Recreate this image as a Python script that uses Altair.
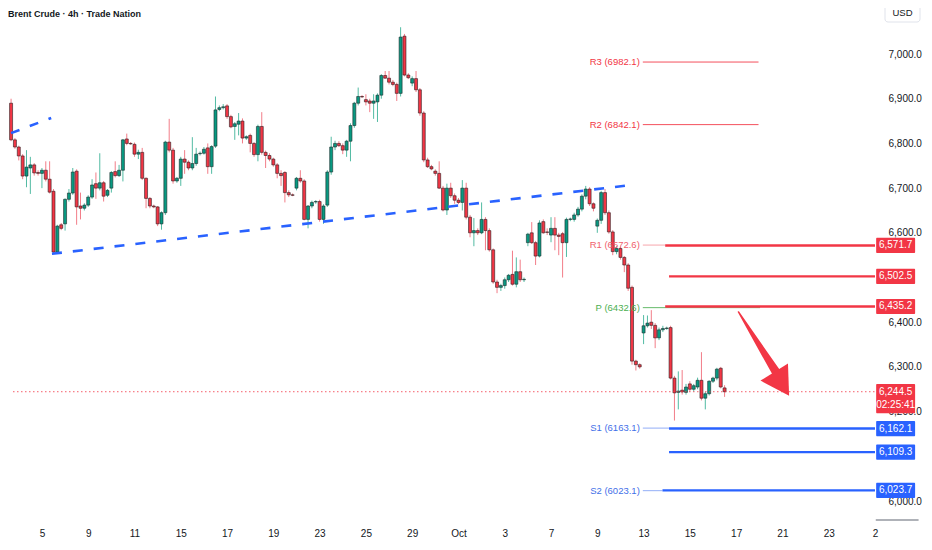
import json
import altair as alt
import pandas as pd

# ---- 4h candles (Brent Crude) ----
opens = [6890, 6808, 6792, 6772, 6727, 6745, 6752, 6735, 6733, 6740, 6720, 6693, 6557, 6618, 6620, 6675, 6689, 6738, 6660, 6655,
         6662, 6680, 6710, 6700, 6712, 6684, 6700, 6737, 6728, 6740, 6810, 6800, 6798, 6776, 6780, 6722, 6677, 6660, 6658, 6620,
         6645, 6803, 6785, 6716, 6722, 6765, 6758, 6745, 6755, 6777, 6778, 6790, 6748, 6794, 6876, 6880, 6884, 6860, 6838, 6843,
         6850, 6812, 6818, 6800, 6775, 6838, 6780, 6773, 6765, 6752, 6733, 6735, 6690, 6685, 6700, 6722, 6716, 6630, 6660, 6669,
         6670, 6630, 6662, 6736, 6792, 6800, 6795, 6785, 6805, 6840, 6890, 6905, 6898, 6895, 6890, 6893, 6908, 6952, 6946, 6937,
         6932, 6912, 7040, 6953, 6935, 6945, 6920, 6868, 6763, 6748, 6738, 6733, 6700, 6651, 6700, 6683, 6673, 6668, 6700, 6635,
         6600, 6605, 6600, 6630, 6605, 6562, 6490, 6478, 6482, 6495, 6507, 6485, 6513, 6495, 6578, 6600, 6578, 6548, 6625, 6602,
         6595, 6610, 6595, 6598, 6578, 6630, 6630, 6640, 6653, 6682, 6698, 6665, 6615, 6628, 6690, 6645, 6602, 6558, 6565, 6545,
         6528, 6478, 6313, 6305, 6376, 6392, 6400, 6393, 6365, 6383, 6386, 6388, 6275, 6243, 6248, 6243, 6262, 6250, 6255, 6270,
         6230, 6240, 6268, 6275, 6297, 6253]
highs = [6900, 6812, 6795, 6776, 6785, 6770, 6756, 6740, 6745, 6760, 6760, 6698, 6618, 6622, 6677, 6698, 6745, 6742, 6690, 6666,
         6684, 6720, 6735, 6778, 6716, 6698, 6738, 6760, 6752, 6810, 6822, 6803, 6802, 6786, 6790, 6724, 6680, 6663, 6660, 6648,
         6806, 6855, 6790, 6725, 6770, 6785, 6762, 6814, 6790, 6782, 6792, 6800, 6796, 6905, 6885, 6888, 6888, 6864, 6848, 6868,
         6856, 6818, 6822, 6803, 6842, 6870, 6784, 6778, 6768, 6756, 6740, 6738, 6695, 6688, 6725, 6740, 6720, 6662, 6672, 6673,
         6674, 6664, 6740, 6815, 6806, 6805, 6800, 6808, 6845, 6893, 6925, 6908, 6910, 6900, 6910, 6912, 6955, 6962, 6962, 6942,
         6936, 7060, 7045, 6957, 6950, 6962, 6924, 6872, 6768, 6752, 6742, 6760, 6705, 6710, 6712, 6688, 6678, 6718, 6712, 6640,
         6633, 6610, 6668, 6635, 6610, 6565, 6495, 6486, 6500, 6508, 6560, 6545, 6540, 6500, 6600, 6624, 6582, 6628, 6630, 6610,
         6635, 6635, 6600, 6602, 6634, 6634, 6645, 6658, 6686, 6705, 6702, 6668, 6632, 6694, 6698, 6650, 6606, 6570, 6568, 6548,
         6532, 6482, 6316, 6308, 6416, 6415, 6427, 6398, 6388, 6392, 6390, 6392, 6280, 6290, 6293, 6262, 6268, 6262, 6276, 6333,
         6244, 6270, 6278, 6298, 6300, 6259]
lows = [6805, 6788, 6762, 6720, 6702, 6687, 6728, 6728, 6700, 6715, 6688, 6553, 6553, 6606, 6605, 6670, 6685, 6618, 6630, 6650,
        6658, 6676, 6676, 6695, 6670, 6680, 6690, 6724, 6725, 6715, 6796, 6797, 6770, 6765, 6718, 6655, 6655, 6655, 6615, 6607,
        6640, 6780, 6710, 6712, 6705, 6732, 6740, 6740, 6750, 6773, 6775, 6732, 6732, 6790, 6872, 6876, 6855, 6834, 6808, 6818,
        6800, 6808, 6780, 6770, 6760, 6775, 6745, 6760, 6748, 6722, 6705, 6668, 6680, 6682, 6695, 6712, 6628, 6610, 6655, 6665,
        6625, 6620, 6658, 6730, 6785, 6792, 6776, 6770, 6760, 6835, 6885, 6902, 6885, 6870, 6855, 6848, 6900, 6945, 6932, 6928,
        6895, 6905, 6950, 6944, 6928, 6915, 6862, 6758, 6745, 6740, 6728, 6698, 6648, 6640, 6678, 6665, 6664, 6650, 6630, 6590,
        6570, 6595, 6597, 6561, 6558, 6486, 6465, 6470, 6475, 6490, 6482, 6478, 6490, 6490, 6570, 6575, 6528, 6545, 6598, 6595,
        6579, 6561, 6550, 6500, 6546, 6626, 6625, 6636, 6648, 6675, 6660, 6648, 6600, 6620, 6640, 6598, 6550, 6552, 6540, 6512,
        6470, 6305, 6292, 6296, 6351, 6388, 6385, 6342, 6360, 6378, 6383, 6272, 6180, 6205, 6238, 6238, 6245, 6245, 6250, 6225,
        6205, 6236, 6264, 6270, 6252, 6233]
closes = [6808, 6792, 6772, 6727, 6747, 6752, 6734, 6733, 6740, 6720, 6691, 6557, 6615, 6610, 6675, 6689, 6736, 6658, 6655, 6662,
          6680, 6707, 6700, 6712, 6682, 6695, 6735, 6728, 6740, 6808, 6800, 6799, 6776, 6780, 6722, 6677, 6660, 6658, 6620, 6645,
          6803, 6785, 6716, 6722, 6765, 6758, 6745, 6755, 6776, 6778, 6787, 6748, 6793, 6875, 6880, 6882, 6860, 6837, 6844, 6850,
          6812, 6815, 6800, 6775, 6838, 6780, 6773, 6765, 6752, 6733, 6728, 6690, 6685, 6684, 6722, 6716, 6630, 6660, 6668, 6670,
          6630, 6660, 6736, 6792, 6800, 6795, 6785, 6805, 6840, 6890, 6905, 6904, 6893, 6890, 6895, 6908, 6952, 6946, 6937, 6932,
          6912, 7038, 6953, 6947, 6945, 6920, 6868, 6763, 6748, 6743, 6733, 6700, 6651, 6700, 6683, 6673, 6668, 6700, 6635, 6600,
          6605, 6600, 6630, 6605, 6562, 6490, 6478, 6482, 6495, 6505, 6485, 6513, 6495, 6496, 6597, 6578, 6548, 6622, 6600, 6601,
          6610, 6595, 6592, 6578, 6630, 6631, 6640, 6653, 6682, 6698, 6665, 6655, 6628, 6690, 6645, 6602, 6558, 6565, 6545, 6528,
          6476, 6313, 6305, 6300, 6392, 6398, 6393, 6365, 6383, 6386, 6387, 6275, 6242, 6246, 6244, 6255, 6250, 6258, 6270, 6230,
          6240, 6268, 6275, 6295, 6255, 6244.5]

# ---- x-axis (bar index) tick positions and date labels ----
tick_index = [8, 20, 32, 44, 56, 68, 80, 92, 104, 116, 128, 140, 152, 164, 176, 188, 200, 212, 224]
tick_labels = ["5", "9", "11", "15", "17", "19", "23", "25", "29", "Oct", "3", "7", "9", "13", "15", "17", "21", "23", "2"]
price_ticks = [6000, 6200, 6300, 6400, 6600, 6700, 6800, 6900, 7000]

# ---- pivot levels ----
pivot_names = ["R3", "R2", "R1", "P", "S1", "S2"]
pivot_values = [6982.1, 6842.1, 6572.6, 6432.6, 6163.1, 6023.1]
pivot_start = [163.8, 163.8, 163.8, 163.8, 163.8, 163.8]
pivot_end = [193.8, 193.8, 169.6, 194.2, 170.6, 168.9]
pivot_kind = ["R", "R", "R1", "P", "S", "S"]

# ---- horizontal levels with price badges ----
level_values = [6571.7, 6502.5, 6435.2, 6162.1, 6109.3, 6023.7]
level_start = [169.6, 170.6, 169.6, 170.6, 170.6, 168.9]
level_side = ["res", "res", "res", "sup", "sup", "sup"]
last_price = 6244.5
countdown = "02:25:41"

# ---- dashed trend lines (bar index, price) ----
trend1_x = [0, 10.4]
trend1_y = [6823, 6857]
trend2_x = [10.6, 160.8]
trend2_y = [6553, 6707]

# ---- arrow (bar index, price) ----
arrow_x = [188.6, 198.8]
arrow_y = [6423, 6282]
arrow_w = [1.5, 9]
arrow_head_x = [199.8]
arrow_head_y = [6262]

X0, X_END = 0.5, 224
Y0, Y1 = 5957.5, 7103
RED = "#f23645"
BLUE = "#2962ff"
GREEN_BODY = "#089981"
FONT = "Liberation Sans"

n = len(opens)
df = pd.DataFrame({"i": list(range(n)), "open": opens, "high": highs, "low": lows, "close": closes})
df["dir"] = ["up" if c >= o else "down" for o, c in zip(opens, closes)]

xs = alt.Scale(domain=[X0, X_END], nice=False, zero=False)
ys = alt.Scale(domain=[Y0, Y1], nice=False, zero=False)

label_expr = json.dumps(tick_labels) + "[round((datum.value - 8) / 12)]"

x_axis = alt.Axis(values=tick_index, labelExpr=label_expr, title=None, grid=False, ticks=False, domain=False,
                  labelColor="#131722", labelFontSize=10, labelFont=FONT, labelPadding=8, labelFlush=False)
y_axis = alt.Axis(orient="right", values=price_ticks, format=",.1f", title=None, grid=False, ticks=False,
                  domain=False, labelColor="#131722", labelFontSize=10, labelFont=FONT, labelPadding=8)


def X(f):
    return alt.X(f, scale=xs, axis=x_axis, title=None)


def Y(f):
    return alt.Y(f, scale=ys, axis=y_axis, title=None)


up = alt.datum.dir == "up"
down = alt.datum.dir == "down"

wick_up = alt.Chart(df).transform_filter(up).mark_rule(strokeWidth=1, clip=True, color="#52bba3").encode(
    x=X("i:Q"), y=Y("low:Q"), y2="high:Q")
wick_dn = alt.Chart(df).transform_filter(down).mark_rule(strokeWidth=1, clip=True, color="#f27d88").encode(
    x=X("i:Q"), y=Y("low:Q"), y2="high:Q")
body_up = alt.Chart(df).transform_filter(up).mark_bar(
    size=3, stroke="#1f2a2a", strokeWidth=0.6, clip=True, color=GREEN_BODY).encode(
    x=X("i:Q"), y=Y("open:Q"), y2="close:Q")
body_dn = alt.Chart(df).transform_filter(down).mark_bar(
    size=3, stroke="#2a1f22", strokeWidth=0.6, clip=True, color=RED).encode(
    x=X("i:Q"), y=Y("open:Q"), y2="close:Q")

# trend lines
t1 = pd.DataFrame({"x": trend1_x, "y": trend1_y})
t2 = pd.DataFrame({"x": trend2_x, "y": trend2_y})
trend_a = alt.Chart(t1).mark_line(color=BLUE, strokeWidth=2.6, strokeDash=[9, 11], clip=True).encode(x=X("x:Q"), y=Y("y:Q"))
trend_b = alt.Chart(t2).mark_line(color=BLUE, strokeWidth=2.6, strokeDash=[10, 11], clip=True).encode(x=X("x:Q"), y=Y("y:Q"))

# pivot thin lines and labels
piv = pd.DataFrame({"name": pivot_names, "v": pivot_values, "x1": pivot_start, "x2": pivot_end, "kind": pivot_kind})
piv["label"] = [f"{a} ({b})" for a, b in zip(pivot_names, pivot_values)]

line_col = {"R": "#f4505d", "R1": "#f7a6ad", "P": "#66bb6a", "S": "#93aef7"}
text_col = {"R": RED, "R1": "#f0606c", "P": "#4caf50", "S": "#3f6fe8"}
piv_layers = []
for k in ["R", "R1", "P", "S"]:
    sub = alt.Chart(piv).transform_filter(alt.datum.kind == k)
    piv_layers.append(sub.mark_rule(strokeWidth=1, color=line_col[k]).encode(x=X("x1:Q"), x2="x2:Q", y=Y("v:Q")))
    piv_layers.append(sub.mark_text(align="right", baseline="middle", fontSize=9.5, font=FONT, dx=-3,
                                    color=text_col[k]).encode(x=X("x1:Q"), y=Y("v:Q"), text="label:N"))

# thick level lines + badges on the price scale
lv = pd.DataFrame({"v": level_values, "x1": level_start, "side": level_side})
lv["x2"] = X_END
lv["label"] = [f"{v:,.1f}" for v in level_values]
lv["b1"] = [v + 17 for v in level_values]
lv["b2"] = [v - 17 for v in level_values]
lv["bx1"] = X_END + 0.3
lv["bx2"] = X_END + 10.4
lv["bxc"] = X_END + 5.35

lv_layers = []
for side, col in [("res", RED), ("sup", BLUE)]:
    sub = alt.Chart(lv).transform_filter(alt.datum.side == side)
    lv_layers.append(sub.mark_rule(strokeWidth=2.4, color=col).encode(x=X("x1:Q"), x2="x2:Q", y=Y("v:Q")))
    lv_layers.append(sub.mark_rect(clip=False, cornerRadius=1, color=col).encode(
        x=X("bx1:Q"), x2="bx2:Q", y=Y("b1:Q"), y2="b2:Q"))
    lv_layers.append(sub.mark_text(color="white", fontSize=10, font=FONT, align="center", baseline="middle").encode(
        x=X("bxc:Q"), y=Y("v:Q"), text="label:N"))

# current price dotted line and badge
cp = pd.DataFrame({"v": [last_price], "x1": [X0], "x2": [X_END]})
cp_line = alt.Chart(cp).mark_rule(strokeWidth=1, strokeDash=[1.5, 2.5], color=RED, opacity=0.8).encode(
    x=X("x1:Q"), x2="x2:Q", y=Y("v:Q"))

cpb = pd.DataFrame({"y1": [last_price + 17], "y2": [last_price - 48], "x1": [X_END + 0.3], "x2": [X_END + 10.4],
                    "xc": [X_END + 5.35], "t1": [f"{last_price:,.1f}"], "t2": [countdown],
                    "v1": [last_price], "v2": [last_price - 29]})
cp_badge = alt.Chart(cpb).mark_rect(color=RED, clip=False, cornerRadius=1).encode(
    x=X("x1:Q"), x2="x2:Q", y=Y("y1:Q"), y2="y2:Q")
cp_t1 = alt.Chart(cpb).mark_text(color="white", fontSize=10, font=FONT, align="center", baseline="middle").encode(
    x=X("xc:Q"), y=Y("v1:Q"), text="t1:N")
cp_t2 = alt.Chart(cpb).mark_text(color="white", fontSize=10, font=FONT, align="center", baseline="middle").encode(
    x=X("xc:Q"), y=Y("v2:Q"), text="t2:N")

# thin gray separator under the price scale
sep = pd.DataFrame({"x1": [X_END + 0.2], "x2": [X_END + 11.3], "y": [Y0]})
sep_line = alt.Chart(sep).mark_rule(color="#9598a1", strokeWidth=1.5, clip=False).encode(
    x=X("x1:Q"), x2="x2:Q", y=Y("y:Q"))

# arrow
ar = pd.DataFrame({"x": arrow_x, "y": arrow_y, "w": arrow_w})
arrow_shaft = alt.Chart(ar).mark_trail(color=RED).encode(
    x=X("x:Q"), y=Y("y:Q"), size=alt.Size("w:Q", scale=None, legend=None))
ah = pd.DataFrame({"x": arrow_head_x, "y": arrow_head_y})
arrow_head = alt.Chart(ah).mark_point(shape="triangle-down", filled=True, color=RED, opacity=1,
                                      size=1050, angle=328).encode(x=X("x:Q"), y=Y("y:Q"))

# title and currency box
title = alt.Chart(pd.DataFrame({"t": ["Brent Crude · 4h · Trade Nation"]})).mark_text(
    align="left", baseline="middle", fontSize=9, fontWeight="bold", font=FONT, color="#131722").encode(
    x=alt.value(0), y=alt.value(6), text="t:N")
usd_box = alt.Chart(pd.DataFrame({"t": ["USD"]})).mark_rect(
    fill="white", stroke="#e0e3eb", strokeWidth=1, cornerRadius=3, clip=False).encode(
    x=alt.value(877), x2=alt.value(912), y=alt.value(-5), y2=alt.value(14))
usd_text = alt.Chart(pd.DataFrame({"t": ["USD"]})).mark_text(
    align="center", baseline="middle", fontSize=9.5, font=FONT, color="#131722").encode(
    x=alt.value(894.5), y=alt.value(5), text="t:N")

chart = alt.layer(
    wick_up, wick_dn, body_up, body_dn, trend_a, trend_b, cp_line, *piv_layers, *lv_layers,
    cp_badge, cp_t1, cp_t2, sep_line, arrow_shaft, arrow_head, title, usd_box, usd_text,
).properties(
    width=872, height=512, background="white",
    autosize=alt.AutoSizeParams(type="none"),
    padding={"left": 0, "top": 0, "right": 44, "bottom": 18},
).configure_view(stroke=None)

chart.save("out.html", embed_options={"renderer": "svg", "actions": False})
